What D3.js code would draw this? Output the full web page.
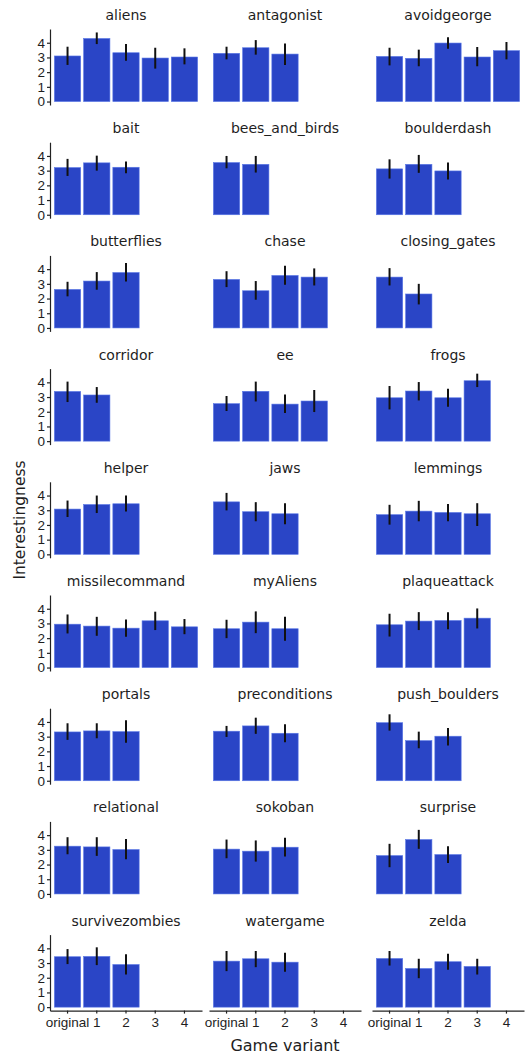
<!DOCTYPE html>
<html>
<head>
<meta charset="utf-8">
<script src="https://cdn.jsdelivr.net/npm/d3@7"></script>
<style>
  body { margin: 0; background: #fff; }
  svg { display: block; font-family: "DejaVu Sans", sans-serif; }
  .axis text { font-size: 13.5px; fill: #1e1e1e; }
  .axis path, .axis line { stroke: #222; stroke-width: 1.2; }
  .title { font-size: 14px; fill: #1e1e1e; text-anchor: middle; }
</style>
</head>
<body>
<svg></svg>
<script>
var width = 529,
    height = 1055;

var variants = ["original", "1", "2", "3", "4"];
var yTicks = [0, 1, 2, 3, 4];

var games = ["aliens", "antagonist", "avoidgeorge",
  "bait", "bees_and_birds", "boulderdash",
  "butterflies", "chase", "closing_gates",
  "corridor", "ee", "frogs",
  "helper", "jaws", "lemmings",
  "missilecommand", "myAliens", "plaqueattack",
  "portals", "preconditions", "push_boulders",
  "relational", "sokoban", "surprise",
  "survivezombies", "watergame", "zelda"];

// mean interestingness per variant (original, 1, 2, 3, 4)
var means = [
  [3.10, 4.29, 3.32, 2.96, 3.03], [3.28, 3.66, 3.23], [3.07, 2.94, 3.98, 3.03, 3.46],
  [3.21, 3.53, 3.23], [3.55, 3.43], [3.12, 3.43, 2.98],
  [2.62, 3.19, 3.77], [3.30, 2.53, 3.57, 3.46], [3.46, 2.31],
  [3.38, 3.14], [2.55, 3.39, 2.52, 2.73], [2.95, 3.41, 2.95, 4.11],
  [3.08, 3.39, 3.44], [3.57, 2.90, 2.76], [2.70, 2.94, 2.85, 2.76],
  [2.95, 2.82, 2.68, 3.18, 2.77], [2.64, 3.09, 2.64], [2.91, 3.16, 3.20, 3.36],
  [3.32, 3.39, 3.34], [3.37, 3.73, 3.23], [3.95, 2.73, 3.03],
  [3.25, 3.20, 3.02], [3.05, 2.91, 3.18], [2.61, 3.70, 2.68],
  [3.43, 3.45, 2.90], [3.13, 3.29, 3.06], [3.31, 2.63, 3.09, 2.77]
];

var errLow = [
  [2.49, 3.91, 2.78, 2.24, 2.53], [2.87, 3.19, 2.49], [2.46, 2.40, 3.59, 2.40, 2.87],
  [2.64, 3.00, 2.82], [3.16, 2.87], [2.46, 2.85, 2.40],
  [2.15, 2.60, 3.16], [2.78, 1.92, 2.94, 2.89], [2.89, 1.60],
  [2.66, 2.61], [2.05, 2.70, 1.91, 1.98], [2.16, 2.77, 2.34, 3.68],
  [2.54, 2.81, 2.92], [2.99, 2.25, 2.04], [2.02, 2.25, 2.25, 1.93],
  [2.32, 2.16, 2.09, 2.55, 2.27], [2.00, 2.34, 1.82], [2.11, 2.55, 2.61, 2.66],
  [2.78, 2.89, 2.58], [2.98, 3.19, 2.62], [3.41, 2.21, 2.40],
  [2.70, 2.59, 2.36], [2.43, 2.20, 2.55], [1.82, 3.07, 2.11],
  [2.93, 2.86, 2.22], [2.45, 2.72, 2.40], [2.83, 1.97, 2.54, 2.22]
];

var errHigh = [
  [3.73, 4.70, 3.91, 3.66, 3.62], [3.73, 4.18, 3.95], [3.66, 3.53, 4.38, 3.71, 4.05],
  [3.80, 4.02, 3.62], [4.00, 4.00], [3.77, 4.07, 3.55],
  [3.14, 3.80, 4.41], [3.86, 3.19, 4.23, 4.05], [4.07, 3.00],
  [4.05, 3.68], [3.07, 4.05, 3.18, 3.48], [3.75, 4.02, 3.57, 4.59],
  [3.66, 4.00, 4.00], [4.18, 3.55, 3.48], [3.37, 3.64, 3.42, 3.48],
  [3.61, 3.45, 3.27, 3.80, 3.30], [3.25, 3.82, 3.45], [3.66, 3.77, 3.77, 4.02],
  [3.91, 3.91, 4.11], [3.73, 4.29, 3.84], [4.52, 3.34, 3.59],
  [3.86, 3.86, 3.73], [3.70, 3.64, 3.82], [3.41, 4.36, 3.25],
  [3.95, 4.07, 3.59], [3.82, 3.82, 3.70], [3.82, 3.29, 3.63, 3.29]
];

var nCols = 3,
    nRows = 9,
    panelW = 152,
    panelH = 76,
    colLefts = [50, 209, 372],
    firstTop = 29,
    rowStep = 113.2;

var svg = d3.select("svg")
    .attr("width", width)
    .attr("height", height);

var x = d3.scaleBand()
    .domain(variants)
    .range([0, panelW])
    .paddingInner(0.1)
    .paddingOuter(0.15);

var maxVal = d3.max(errHigh, function(d) { return d3.max(d); });
var y = d3.scaleLinear()
    .domain([-0.05 * maxVal, maxVal * 1.05])
    .range([panelH, 0]);

games.forEach(function(game, i) {
  var col = i % nCols,
      row = Math.floor(i / nCols);
  var g = svg.append("g")
      .attr("transform", "translate(" + colLefts[col] + "," + (firstTop + row * rowStep) + ")");

  var rows = means[i].map(function(m, j) {
    return { v: variants[j], mean: m, lo: errLow[i][j], hi: errHigh[i][j] };
  });

  g.append("text")
      .attr("class", "title")
      .attr("x", panelW / 2)
      .attr("y", -9)
      .text(game);

  g.selectAll(".bar")
      .data(rows)
    .enter().append("rect")
      .attr("class", "bar")
      .attr("x", function(d) { return x(d.v); })
      .attr("width", x.bandwidth())
      .attr("y", function(d) { return y(d.mean); })
      .attr("height", function(d) { return y(0) - y(d.mean); })
      .attr("fill", "#2a45c6")
      .attr("stroke", "#5a78e6")
      .attr("stroke-width", 0.6);

  g.selectAll(".err")
      .data(rows)
    .enter().append("line")
      .attr("class", "err")
      .attr("x1", function(d) { return x(d.v) + x.bandwidth() / 2; })
      .attr("x2", function(d) { return x(d.v) + x.bandwidth() / 2; })
      .attr("y1", function(d) { return y(d.lo); })
      .attr("y2", function(d) { return y(d.hi); })
      .attr("stroke", "#111")
      .attr("stroke-width", 2);

  if (col === 0) {
    g.append("g")
        .attr("class", "axis")
        .call(d3.axisLeft(y).tickValues(yTicks).tickFormat(d3.format("d"))
          .tickSize(3).tickSizeOuter(0).tickPadding(2));
  }
  if (row === nRows - 1) {
    g.append("g")
        .attr("class", "axis")
        .attr("transform", "translate(0," + panelH + ")")
        .call(d3.axisBottom(x).tickSize(3).tickSizeOuter(0).tickPadding(4));
  }
});

// axis titles
svg.append("text")
    .attr("x", 285)
    .attr("y", 1051)
    .attr("text-anchor", "middle")
    .attr("font-size", "16px")
    .attr("fill", "#1e1e1e")
    .text("Game variant");

svg.append("text")
    .attr("transform", "translate(25,520) rotate(-90)")
    .attr("text-anchor", "middle")
    .attr("font-size", "15.5px")
    .attr("fill", "#1e1e1e")
    .text("Interestingness");
</script>
</body>
</html>
